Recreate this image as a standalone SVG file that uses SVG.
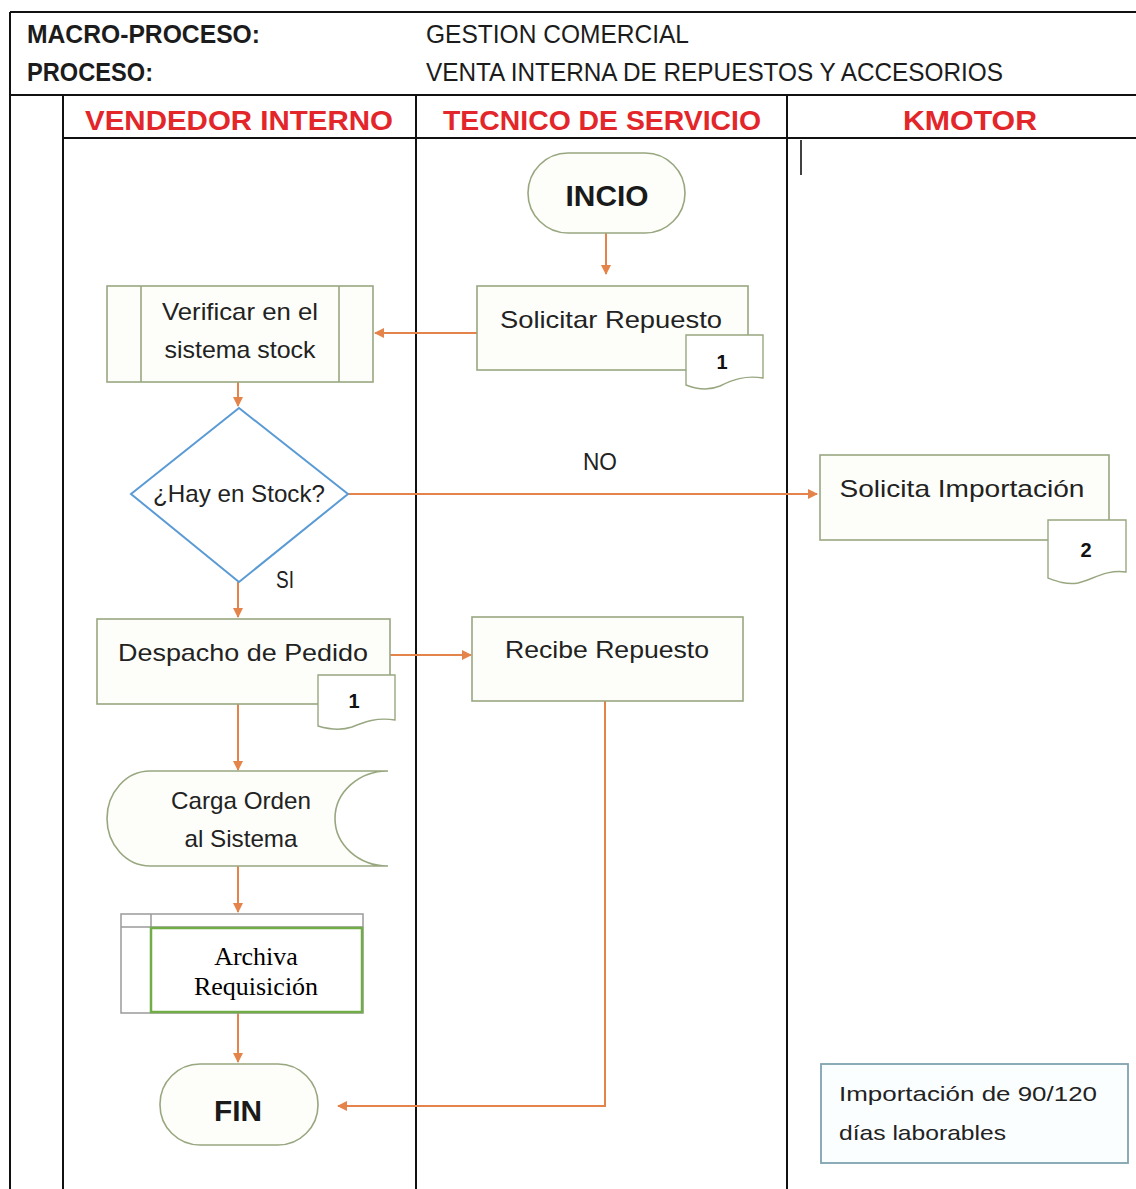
<svg xmlns="http://www.w3.org/2000/svg" width="1136" height="1189" viewBox="0 0 1136 1189">
  <defs>
    <marker id="arrow" viewBox="0 0 10 10" refX="9" refY="5" markerWidth="11" markerHeight="10" markerUnits="userSpaceOnUse" orient="auto">
      <path d="M0,0 L10,5 L0,10 Z" fill="#e5844a"/>
    </marker>
    <style>
      .frame { stroke: #111; stroke-width: 2; fill: none; }
      .hdr { font-family: "Liberation Sans", Arial, sans-serif; font-size: 25px; fill: #1c1c1c; }
      .hdrb { font-weight: bold; }
      .lane { font-family: "Liberation Sans", Arial, sans-serif; font-size: 28px; font-weight: bold; fill: #e3262a; text-anchor: middle; }
      .box { fill: #fdfef9; stroke: #98a780; stroke-width: 1.6; }
      .tag { fill: #ffffff; stroke: #98a780; stroke-width: 1.4; }
      .txt { font-family: "Liberation Sans", Arial, sans-serif; font-size: 24px; fill: #222; text-anchor: middle; }
      .note { font-family: "Liberation Sans", Arial, sans-serif; font-size: 21px; fill: #222; text-anchor: start; }
      .big { font-family: "Liberation Sans", Arial, sans-serif; font-size: 29px; font-weight: bold; fill: #1a1a1a; text-anchor: middle; }
      .num { font-family: "Liberation Sans", Arial, sans-serif; font-size: 20px; font-weight: bold; fill: #111; text-anchor: middle; }
      .serif { font-family: "Liberation Serif", "Times New Roman", serif; font-size: 26px; fill: #000; text-anchor: middle; }
      .conn { stroke: #e5844a; stroke-width: 2; fill: none; }
    </style>
  </defs>

  <rect width="1136" height="1189" fill="#ffffff"/>

  <!-- Swimlane frame -->
  <g id="frame">
    <path class="frame" d="M10,12 H1136 M10,12 V1189 M10,95 H1136 M63,138 H1136 M63,95 V1189 M416,95 V1189 M787,95 V1189"/>
    <path d="M801,140 V175" stroke="#111" stroke-width="1.6"/>
    <text class="hdr hdrb" x="27" y="43" textLength="233" lengthAdjust="spacingAndGlyphs">MACRO-PROCESO:</text>
    <text class="hdr hdrb" x="27" y="81" textLength="126" lengthAdjust="spacingAndGlyphs">PROCESO:</text>
    <text class="hdr" x="426" y="43" textLength="263" lengthAdjust="spacingAndGlyphs">GESTION COMERCIAL</text>
    <text class="hdr" x="426" y="81" textLength="577" lengthAdjust="spacingAndGlyphs">VENTA INTERNA DE REPUESTOS Y ACCESORIOS</text>
    <text class="lane" x="239" y="130" textLength="308" lengthAdjust="spacingAndGlyphs">VENDEDOR INTERNO</text>
    <text class="lane" x="602" y="130" textLength="318" lengthAdjust="spacingAndGlyphs">TECNICO DE SERVICIO</text>
    <text class="lane" x="970" y="130" textLength="134" lengthAdjust="spacingAndGlyphs">KMOTOR</text>
  </g>

  <!-- Connectors -->
  <g id="connectors">
    <path class="conn" d="M606,233 V274" marker-end="url(#arrow)"/>
    <path class="conn" d="M477,333 H375" marker-end="url(#arrow)"/>
    <path class="conn" d="M238,382 V406" marker-end="url(#arrow)"/>
    <path class="conn" d="M348,494 H817" marker-end="url(#arrow)"/>
    <path class="conn" d="M238,582 V617" marker-end="url(#arrow)"/>
    <path class="conn" d="M390,655 H471" marker-end="url(#arrow)"/>
    <path class="conn" d="M605,701 V1106 H338" marker-end="url(#arrow)"/>
    <path class="conn" d="M238,704 V770" marker-end="url(#arrow)"/>
    <path class="conn" d="M238,866 V912" marker-end="url(#arrow)"/>
    <path class="conn" d="M238,1013 V1062" marker-end="url(#arrow)"/>
    <text class="txt" x="600" y="470" font-size="21" textLength="34" lengthAdjust="spacingAndGlyphs">NO</text>
    <text class="txt" x="285" y="588" font-size="20" textLength="18" lengthAdjust="spacingAndGlyphs">SI</text>
  </g>

  <!-- Start -->
  <g id="inicio">
    <rect class="box" x="528" y="153" width="157" height="80" rx="40" ry="40"/>
    <text class="big" x="607" y="206" textLength="83" lengthAdjust="spacingAndGlyphs">INCIO</text>
  </g>

  <g id="solicitar-repuesto">
    <rect class="box" x="477" y="286" width="271" height="84"/>
    <text class="txt" x="611" y="328" textLength="222" lengthAdjust="spacingAndGlyphs">Solicitar Repuesto</text>
    <path class="tag" d="M686,335 H763 V378 C745,375 732,380 720,386 C708,391 696,389 686,385 Z"/>
    <text class="num" x="722" y="369">1</text>
  </g>

  <g id="verificar-stock">
    <rect class="box" x="107" y="286" width="266" height="96"/>
    <path d="M141,286 V382 M339,286 V382" stroke="#98a780" stroke-width="1.6"/>
    <text class="txt" x="240" y="320" font-size="22" textLength="156" lengthAdjust="spacingAndGlyphs">Verificar en el</text>
    <text class="txt" x="240" y="358" font-size="22" textLength="151" lengthAdjust="spacingAndGlyphs">sistema stock</text>
  </g>

  <g id="hay-stock">
    <path d="M239,408 L348,494 L239,582 L131,494 Z" fill="#ffffff" stroke="#5b9bd5" stroke-width="2"/>
    <text class="txt" x="239" y="502" font-size="22" textLength="172" lengthAdjust="spacingAndGlyphs">¿Hay en Stock?</text>
  </g>

  <g id="solicita-importacion">
    <rect class="box" x="820" y="455" width="289" height="85"/>
    <text class="txt" x="962" y="497" textLength="245" lengthAdjust="spacingAndGlyphs">Solicita Importación</text>
    <path class="tag" d="M1048,520 H1126 V572 C1106,569 1092,580 1078,583 C1066,585 1056,581 1048,578 Z"/>
    <text class="num" x="1086" y="557" font-size="22">2</text>
  </g>

  <g id="despacho-pedido">
    <rect class="box" x="97" y="619" width="293" height="85"/>
    <text class="txt" x="243" y="661" textLength="250" lengthAdjust="spacingAndGlyphs">Despacho de Pedido</text>
    <path class="tag" d="M318,675 H395 V720 C377,717 364,722 352,727 C340,731 328,729 318,726 Z"/>
    <text class="num" x="354" y="708">1</text>
  </g>

  <g id="recibe-repuesto">
    <rect class="box" x="472" y="617" width="271" height="84"/>
    <text class="txt" x="607" y="658" textLength="204" lengthAdjust="spacingAndGlyphs">Recibe Repuesto</text>
  </g>

  <g id="carga-orden">
    <path class="box" d="M150,771 H388 A53,47.5 0 0 0 388,866 H150 A43,47.5 0 0 1 150,771 Z"/>
    <text class="txt" x="241" y="809" font-size="22" textLength="140" lengthAdjust="spacingAndGlyphs">Carga Orden</text>
    <text class="txt" x="241" y="847" font-size="22" textLength="113" lengthAdjust="spacingAndGlyphs">al Sistema</text>
  </g>

  <g id="archiva-requisicion">
    <rect x="121" y="914" width="242" height="99" fill="#ffffff" stroke="#9a9a9a" stroke-width="1.5"/>
    <path d="M121,927 H363 M151,914 V1013" stroke="#9a9a9a" stroke-width="1.5"/>
    <rect x="151" y="928" width="211" height="84" fill="#ffffff" stroke="#70ad47" stroke-width="2.5"/>
    <text class="serif" x="256" y="965">Archiva</text>
    <text class="serif" x="256" y="995">Requisición</text>
  </g>

  <g id="fin">
    <rect class="box" x="160" y="1064" width="158" height="81" rx="40" ry="40"/>
    <text class="big" x="238" y="1121" textLength="48" lengthAdjust="spacingAndGlyphs">FIN</text>
  </g>

  <g id="nota-importacion">
    <rect x="821" y="1064" width="307" height="99" fill="#fbfeff" stroke="#7fa3b0" stroke-width="1.8"/>
    <text class="note" x="839" y="1101" textLength="258" lengthAdjust="spacingAndGlyphs">Importación de 90/120</text>
    <text class="note" x="839" y="1140" textLength="167" lengthAdjust="spacingAndGlyphs">días laborables</text>
  </g>
</svg>
